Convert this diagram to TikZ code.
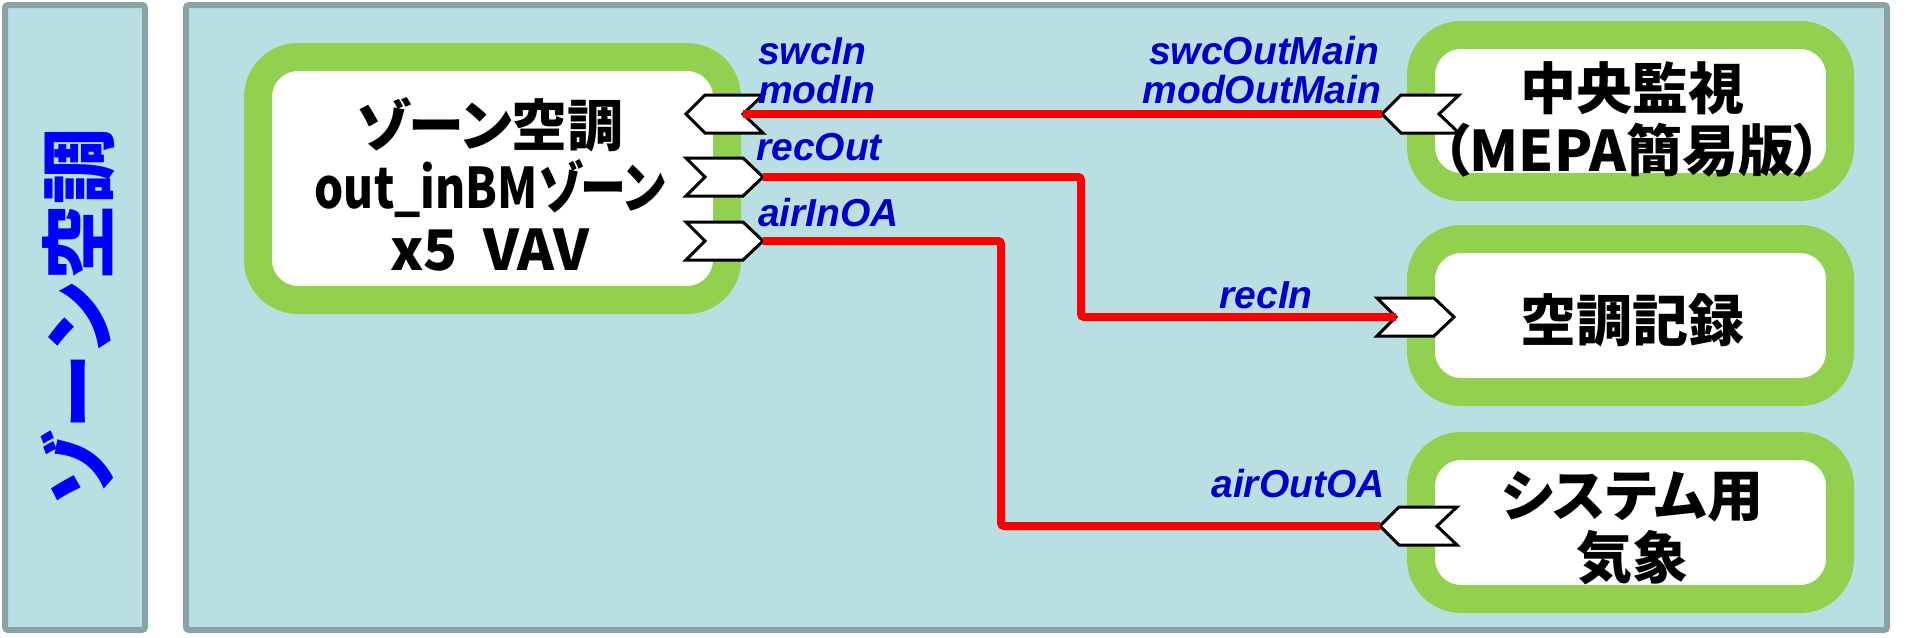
\documentclass[tikz,border=0pt]{standalone}
\usepackage{graphicx}
\usepackage{fontspec}
\setmainfont{Liberation Sans}
\newfontfamily\jp{Noto Sans CJK JP}[RawFeature=+palt]
\newfontfamily\jpv{Noto Sans CJK JP}
\definecolor{panelfill}{HTML}{B9DFE3}
\definecolor{panelline}{HTML}{8AA3A6}
\definecolor{blockgreen}{HTML}{92D050}
\definecolor{lblue}{HTML}{0000C8}
\definecolor{vblue}{HTML}{0000FF}
\begin{document}
\begin{tikzpicture}[x=1pt,y=-1pt,
  panel/.style={draw=panelline,fill=panelfill,line width=6pt,rounded corners=3pt,inner sep=0pt},
  block/.style={draw=blockgreen,fill=white,line width=28pt,rounded corners=40pt,inner sep=0pt},
  btext/.style={font=\jp\bfseries\fontsize{56}{62}\selectfont,align=center,text=black,inner sep=0pt},
  vtext/.style={font=\jpv\bfseries\fontsize{76}{76}\selectfont,text=vblue,rotate=90,inner sep=0pt},
  port/.style={draw=black,fill=white,line width=3pt,line join=miter},
  wire/.style={draw=red,line width=8pt,rounded corners=3pt},
  plabel/.style={font=\bfseries\itshape\fontsize{39}{39}\selectfont,text=lblue,inner sep=0pt}]
\useasboundingbox[fill=white] (0,0) rectangle (1910,637);
% panels
\node[panel,minimum width=140pt,minimum height=625pt] (lpanel) at (75,317.5) {};
\node[panel,minimum width=1701pt,minimum height=625pt] (rpanel) at (1036.5,317.5) {};
\node[vtext] (vlabel) at (78,317) {ゾーン空調};
% blocks
\node[block,minimum width=469pt,minimum height=243pt] (zone) at (492.5,178.5) {};
\node[block,minimum width=419pt,minimum height=152pt] (central) at (1630.5,111) {};
\node[block,minimum width=419pt,minimum height=153pt] (record) at (1630.5,315.5) {};
\node[block,minimum width=419pt,minimum height=153pt] (weather) at (1630.5,522.5) {};
% ports (chevrons)
\draw[port] (686,114) coordinate (zinTip) -- ++(19,-19) -- ++(58,0) -- ++(-20,19) coordinate (zinNotch) -- ++(20,19) -- ++(-58,0) -- cycle;
\draw[port] (705,177) coordinate (zrecNotch) -- ++(-19,-19) -- ++(57,0) -- ++(20,19) coordinate (zrecTip) -- ++(-20,19) -- ++(-57,0) -- cycle;
\draw[port] (705,241) coordinate (zairNotch) -- ++(-19,-19) -- ++(57,0) -- ++(20,19) coordinate (zairTip) -- ++(-20,19) -- ++(-57,0) -- cycle;
\draw[port] (1382,114) coordinate (cinTip) -- ++(19,-19) -- ++(58,0) -- ++(-20,19) coordinate (cinNotch) -- ++(20,19) -- ++(-58,0) -- cycle;
\draw[port] (1396,317) coordinate (rinNotch) -- ++(-19,-19) -- ++(57,0) -- ++(20,19) coordinate (rinTip) -- ++(-20,19) -- ++(-57,0) -- cycle;
\draw[port] (1380,526) coordinate (sinTip) -- ++(19,-19) -- ++(58,0) -- ++(-20,19) coordinate (sinNotch) -- ++(20,19) -- ++(-58,0) -- cycle;
% wires
\draw[wire] (cinTip) -- (zinNotch);
\draw[wire] (zrecTip) -| (1081,317) -- (rinNotch);
\draw[wire] (zairTip) -| (1001,526) -- (sinTip);
% block texts
\node[btext] (ztext) at (490,184) {ゾーン空調\\\scalebox{0.82}[1]{out\_inBMゾーン}\\x5\hspace{0.45em}VAV};
\node[btext] (ctext) at (1632,119) {中央監視\\（MEPA簡易版）};
\node[btext] (rtext) at (1632,320) {空調記録};
\node[btext] (wtext) at (1632,528) {システム用\\気象};
% port labels
\node[plabel,anchor=base west] (l1) at (758,64) {swcIn};
\node[plabel,anchor=base west] (l2) at (758,103) {modIn};
\node[plabel,anchor=base west] (l3) at (756,160) {recOut};
\node[plabel,anchor=base west] (l4) at (758,226) {airInOA};
\node[plabel,anchor=base east] (l5) at (1379,64) {swcOutMain};
\node[plabel,anchor=base east] (l6) at (1381,103) {modOutMain};
\node[plabel,anchor=base east] (l7) at (1313,308) {recIn};
\node[plabel,anchor=base east] (l8) at (1385,497) {airOutOA};
\end{tikzpicture}
\end{document}
